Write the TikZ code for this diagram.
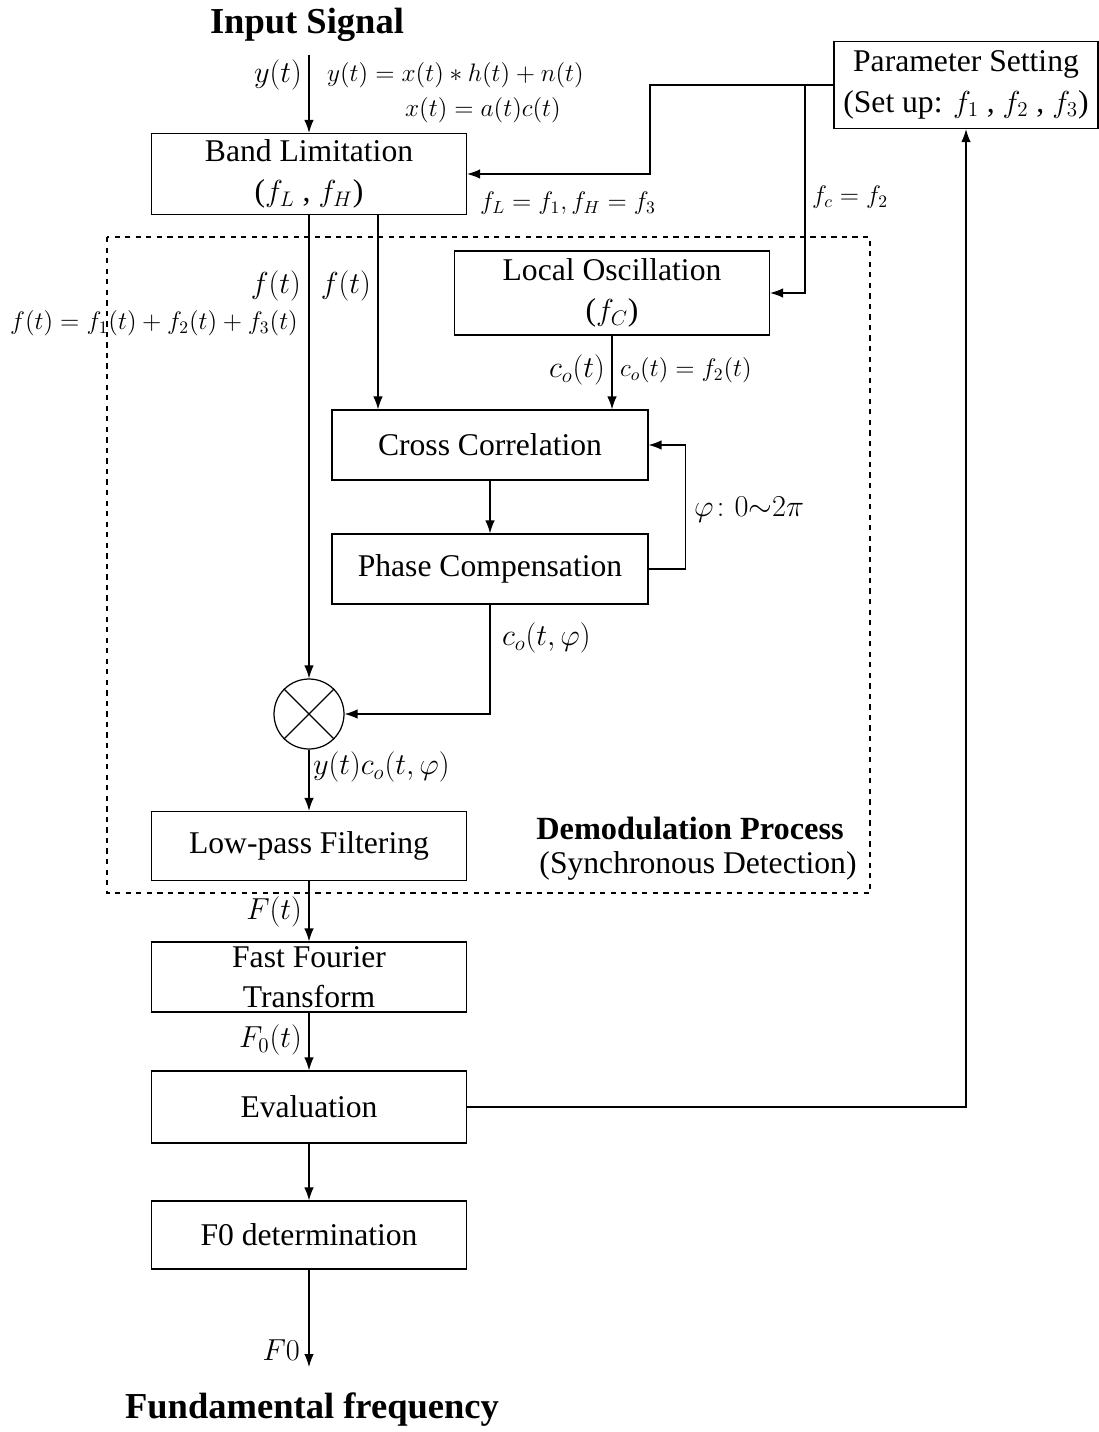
\documentclass[tikz,border=0pt]{standalone}
\usepackage{amsmath,amssymb}
\usepackage{fontspec}
\setmainfont{Liberation Serif}
\usetikzlibrary{positioning,arrows.meta,calc}

\begin{document}
\begin{tikzpicture}[
  x=0.02cm, y=-0.02cm,
  blk/.style={draw, line width=0.7pt, minimum width=6.3cm, align=center, inner sep=2pt, font=\fontsize{18}{23}\selectfont},
  mulc/.style={draw, circle, line width=0.7pt, minimum size=1.4cm, inner sep=0pt},
  lbl/.style={inner sep=1pt, font=\fontsize{18}{21}\selectfont},
  slbl/.style={inner sep=1pt, font=\fontsize{14.5}{17}\selectfont},
  ttl/.style={inner sep=1pt, font=\fontsize{20.8}{24}\selectfont\bfseries},
  wire/.style={line width=0.7pt},
  arr/.style={line width=0.7pt, -{Latex[length=2.6mm,width=1.9mm]}}
]
\useasboundingbox (0,0) rectangle (1098,1432);

% blocks
\node[blk, minimum height=1.62cm] (nband) at (309,174) {Band Limitation\\($f_L$ , $f_H$)};
\node[blk, minimum width=5.28cm, minimum height=1.74cm] (npar) at (966,85) {Parameter Setting\\(Set up: $f_1$ , $f_2$ , $f_3$)};
\node[blk, minimum height=1.68cm] (nloc) at (612,293) {Local Oscillation\\($f_C$)};
\node[blk, minimum width=6.32cm, minimum height=1.4cm] (ncross) at (490,445) {Cross Correlation};
\node[blk, minimum width=6.32cm, minimum height=1.4cm] (nphase) at (490,569) {Phase Compensation};
\node[mulc] (nmul) at (309,714) {};
\node[blk, minimum height=1.38cm] (nlpf) at (309,846) {Low-pass Filtering};
\node[blk, minimum height=1.4cm] (nfft) at (309,977) {Fast Fourier\\Transform};
\node[blk, minimum height=1.44cm] (neval) at (309,1107) {Evaluation};
\node[blk, minimum height=1.36cm] (nfzero) at (309,1235) {F0 determination};
\draw[wire] (nmul.north east) -- (nmul.south west);
\draw[wire] (nmul.north west) -- (nmul.south east);

% demodulation frame
\draw[line width=0.6pt, dashed] (107,237) rectangle (870,893);
\node[ttl, font=\fontsize{18.4}{21}\selectfont\bfseries] (ndemod) at (690,828) {Demodulation Process};
\node[lbl] (nsync) at (698,866) {(Synchronous Detection)};

% titles
\node[ttl] (nin) at (307,25) {Input Signal};
\node[ttl] (nout) at (312,1410) {Fundamental frequency};
\coordinate (cin) at (309,55);
\coordinate (cout) at (309,1367);

% connectors
\draw[arr] (cin) -- (nband);
\coordinate (cbend) at (650,85);
\coordinate (cjun) at (805,85);
\draw[arr] (npar.west) -- (cbend) |- (nband.east);
\draw[arr] (cjun) |- (nloc.east);
\draw[arr] (neval.east) -| (npar.south);
\draw[arr] (nband.south) -- (nmul.north);
\coordinate (cf2) at (378,215);
\draw[arr] (cf2) -- (cf2 |- ncross.north);
\draw[arr] (nloc.south) -- (nloc.south |- ncross.north);
\draw[arr] (ncross.south) -- (nphase.north);
\draw[arr] (nphase.east) -- ++(37,0) |- (ncross.east);
\draw[arr] (nphase.south) |- (nmul.east);
\draw[arr] (nmul.south) -- (nlpf.north);
\draw[arr] (nlpf.south) -- (nfft.north);
\draw[arr] (nfft.south) -- (neval.north);
\draw[arr] (neval.south) -- (nfzero.north);
\draw[arr] (nfzero.south) -- (cout);

% labels
\node[lbl, anchor=east] (lyt) at (304,75) {$y(t)$};
\node[slbl, anchor=west] (leq1) at (325,75) {$y(t)=x(t)*h(t)+n(t)$};
\node[slbl, anchor=west] (leq2) at (403,110) {$x(t)=a(t)c(t)$};
\node[slbl, anchor=west] (lfl) at (478,203) {$f_L=f_1, f_H=f_3$};
\node[slbl, anchor=west] (lfc) at (810,197) {$f_c=f_2$};
\node[lbl, anchor=east] (lf1) at (303,286) {$f(t)$};
\node[lbl, anchor=east] (lf2) at (373,286) {$f(t)$};
\node[slbl, anchor=west] (lfsum) at (8,323) {$f(t)=f_1(t)+f_2(t)+f_3(t)$};
\node[lbl, anchor=east] (lco) at (607,370) {$c_o(t)$};
\node[slbl, anchor=west] (lcoeq) at (618,370) {$c_o(t)=f_2(t)$};
\node[lbl, anchor=west] (lphi) at (692,510) {$\varphi\colon 0{\sim}2\pi$};
\node[lbl, anchor=west] (lcophi) at (500,638) {$c_o(t,\varphi)$};
\node[lbl, anchor=west] (lprod) at (311,767) {$y(t)c_o(t,\varphi)$};
\node[lbl, anchor=east] (lFt) at (304,912) {$F(t)$};
\node[lbl, anchor=east] (lF0t) at (304,1040) {$F_0(t)$};
\node[lbl, anchor=east] (lF0) at (302,1350) {$F0$};

\end{tikzpicture}
\end{document}
